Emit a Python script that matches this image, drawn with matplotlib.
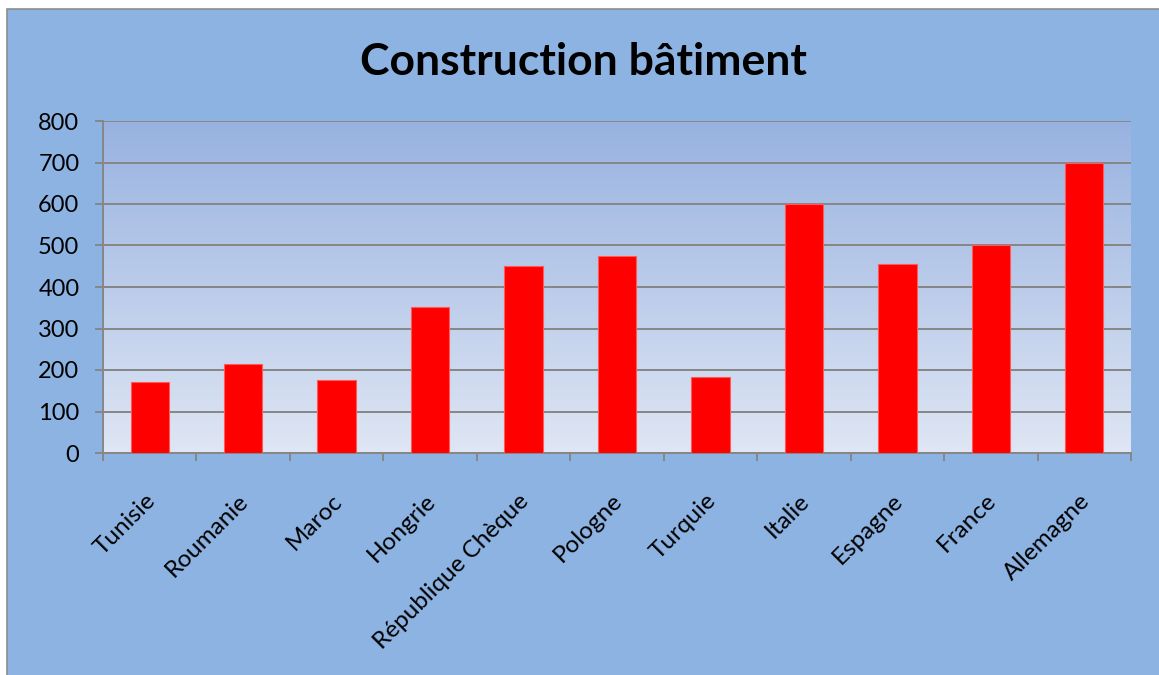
import numpy as np
import matplotlib
matplotlib.use("Agg")
import matplotlib.pyplot as plt
from matplotlib.colors import LinearSegmentedColormap
from matplotlib.patches import Rectangle
from matplotlib.transforms import ScaledTranslation

pays = ["Tunisie", "Roumanie", "Maroc", "Hongrie", "République Chèque",
        "Pologne", "Turquie", "Italie", "Espagne", "France", "Allemagne"]
valeurs = [170, 215, 175, 352, 450, 475, 182, 600, 456, 500, 700]
yticks = [0, 100, 200, 300, 400, 500, 600, 700, 800]
titre = "Construction bâtiment"

plt.rcParams["font.family"] = ["Lato", "DejaVu Sans"]

W, H = 1159, 675
fig = plt.figure(figsize=(W / 100, H / 100), dpi=100, facecolor="white")

# chart frame, left and top edges visible
fig.patches.append(Rectangle((7 / W, -0.05), 1.1, 1.05 - 9 / H,
                             transform=fig.transFigure, facecolor="#8DB3E2",
                             edgecolor="#8C8C8C", linewidth=1.2, zorder=-10))

ax = fig.add_axes([103 / W, 1 - 453 / H, (1131 - 103) / W, (453 - 121) / H])

# plot area gradient
grad = LinearSegmentedColormap.from_list("pa", ["#DFE6F4", "#BBCCEA", "#98B2E0"])
ax.imshow(np.linspace(0, 1, 256).reshape(-1, 1), cmap=grad, origin="lower",
          extent=[0, 1, 0, 1], transform=ax.transAxes, aspect="auto", zorder=0)

x = np.arange(len(pays))
ax.bar(x, valeurs, width=0.41, color="#FF0000", edgecolor="#FF5A5A",
       linewidth=0.8, zorder=3)

ax.set_xlim(-0.5, len(pays) - 0.5)
ax.set_ylim(0, 800)
ax.set_yticks(yticks)
ax.set_yticklabels([str(v) for v in yticks], fontsize=17)
ax.yaxis.grid(True, color="#868686", linewidth=1.4, zorder=1)
ax.set_axisbelow(True)

ax.set_xticks(x)
ax.set_xticklabels(pays, fontsize=17.5, rotation=45, ha="right",
                   va="center", rotation_mode="anchor")
ax.set_xticks(np.arange(len(pays) + 1) - 0.5, minor=True)
ax.tick_params(axis="x", which="major", length=0, pad=32)
ax.tick_params(axis="x", which="minor", length=6, width=1.4, color="#868686")
ax.tick_params(axis="y", length=6, width=1.4, color="#868686", pad=11)
for lab in ax.get_xticklabels():
    lab.set_transform(lab.get_transform() + ScaledTranslation(0.02, 0, fig.dpi_scale_trans))

for s in ["top", "right"]:
    ax.spines[s].set_visible(False)
for s in ["left", "bottom"]:
    ax.spines[s].set_color("#868686")
    ax.spines[s].set_linewidth(1.4)
ax.patch.set_alpha(0)

fig.text(583 / W, 1 - 75 / H, titre, ha="center", va="baseline",
         fontsize=32, fontweight="bold")

fig.savefig("out.png", dpi=100, facecolor=fig.get_facecolor())
